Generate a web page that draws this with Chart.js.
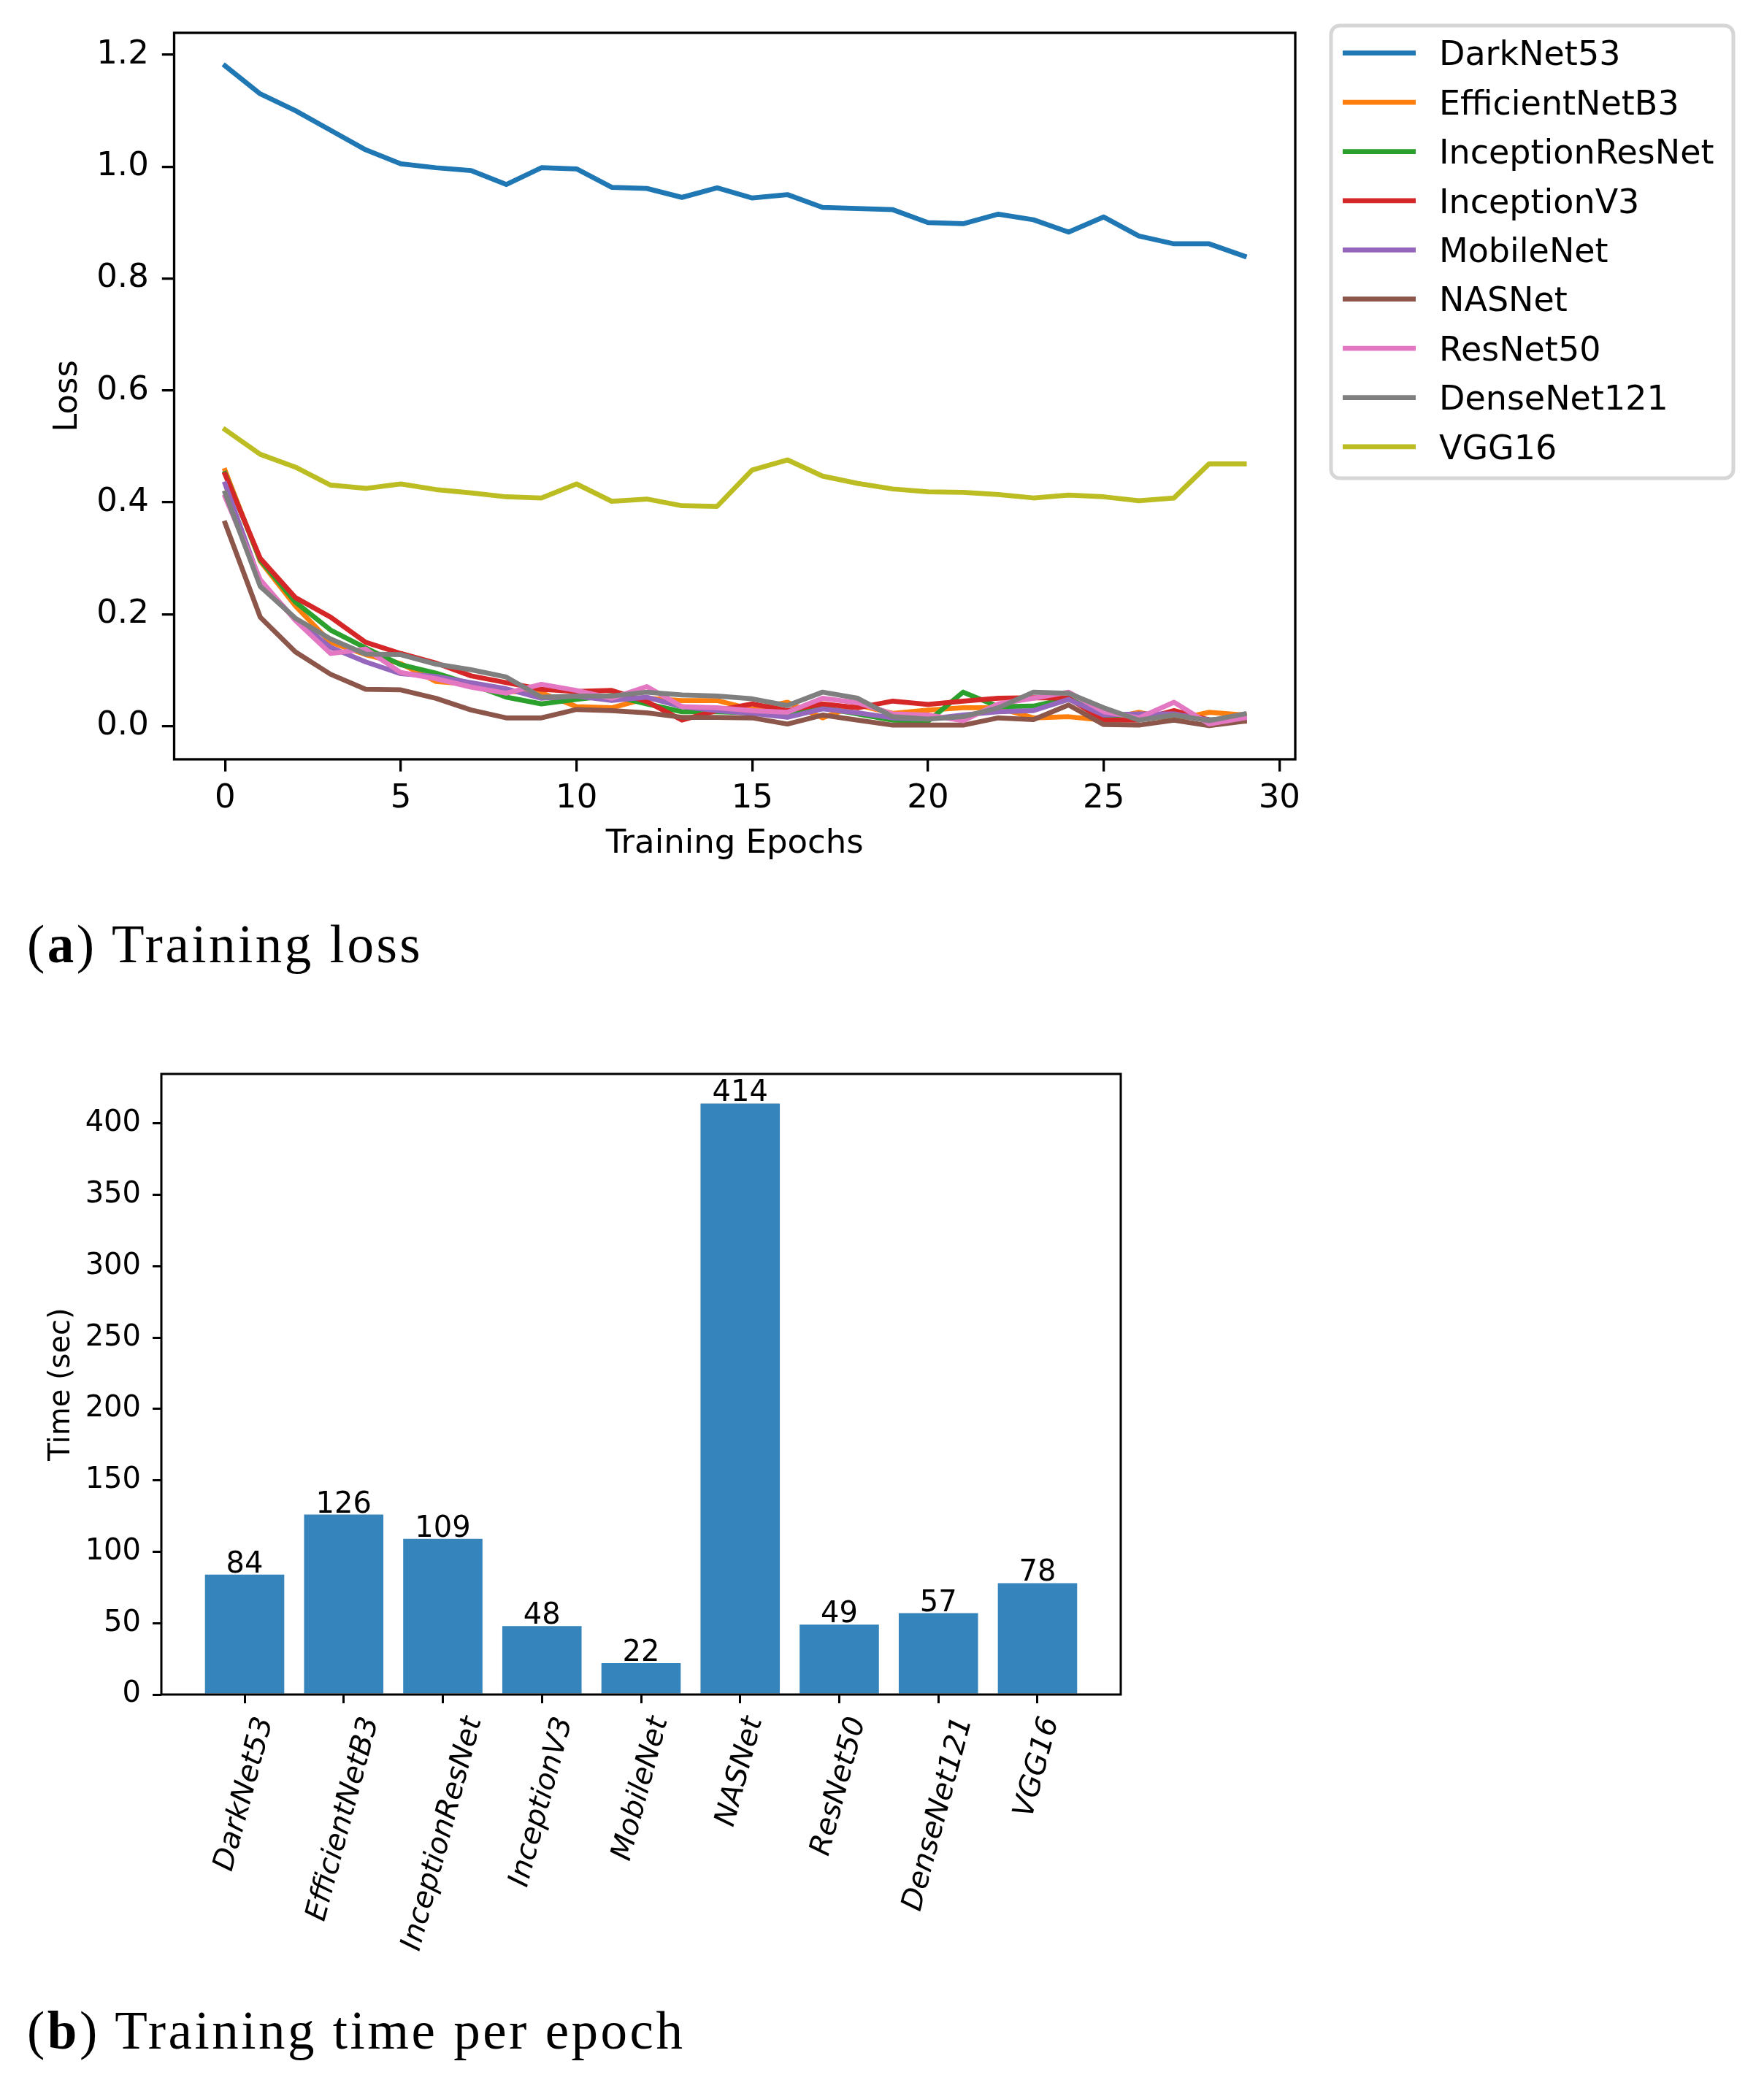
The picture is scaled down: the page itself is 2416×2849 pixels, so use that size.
<!DOCTYPE html>
<html><head><meta charset="utf-8">
<script src="https://cdn.jsdelivr.net/npm/chart.js@4.4.0/dist/chart.umd.min.js"></script>
<style>
html,body{margin:0;padding:0;background:#fff;}
body{position:relative;width:2416px;height:2849px;overflow:hidden;}
#c1{position:absolute;left:0;top:0;}
#c2{position:absolute;left:0;top:1400px;}
.cap{position:absolute;left:37px;font-family:'Liberation Serif',serif;font-size:73px;line-height:73px;letter-spacing:3.5px;color:#000;white-space:nowrap;}
</style></head><body>
<canvas id="c1" width="2416" height="1230" style="width:2416px;height:1230px"></canvas>
<div class="cap" style="top:1257px">(<b>a</b>) Training loss</div>
<canvas id="c2" width="2416" height="1300" style="width:2416px;height:1300px"></canvas>
<div class="cap" style="top:2745px">(<b>b</b>) Training time per epoch</div>
<script>
// ---------- data ----------
const epochs = [0,1,2,3,4,5,6,7,8,9,10,11,12,13,14,15,16,17,18,19,20,21,22,23,24,25,26,27,28,29];
const darkNet53 = [1.180,1.130,1.100,1.065,1.030,1.005,0.998,0.993,0.968,0.998,0.996,0.963,0.961,0.945,0.962,0.944,0.950,0.927,0.925,0.923,0.900,0.898,0.915,0.905,0.883,0.910,0.876,0.862,0.862,0.840];
const efficientNetB3 = [0.457,0.295,0.215,0.150,0.128,0.112,0.080,0.075,0.062,0.060,0.035,0.033,0.050,0.046,0.046,0.030,0.043,0.015,0.038,0.023,0.029,0.033,0.033,0.015,0.017,0.011,0.025,0.011,0.025,0.020];
const inceptionResNet = [0.452,0.297,0.222,0.172,0.140,0.110,0.095,0.075,0.052,0.040,0.048,0.055,0.040,0.026,0.026,0.024,0.020,0.033,0.022,0.011,0.009,0.061,0.035,0.036,0.050,0.020,0.012,0.020,0.012,0.011];
const inceptionV3 = [0.450,0.300,0.230,0.195,0.150,0.130,0.113,0.090,0.078,0.066,0.062,0.064,0.044,0.011,0.028,0.040,0.028,0.040,0.033,0.045,0.039,0.045,0.050,0.051,0.050,0.011,0.011,0.028,0.011,0.009];
const mobileNet = [0.433,0.258,0.191,0.141,0.115,0.094,0.089,0.078,0.067,0.050,0.054,0.046,0.052,0.035,0.028,0.023,0.016,0.031,0.024,0.015,0.013,0.020,0.026,0.028,0.048,0.020,0.022,0.022,0.011,0.015];
const nasNet = [0.363,0.195,0.133,0.093,0.066,0.065,0.050,0.029,0.015,0.015,0.030,0.028,0.024,0.016,0.016,0.015,0.004,0.020,0.011,0.002,0.002,0.002,0.015,0.012,0.038,0.003,0.002,0.011,0.001,0.009];
const resNet50 = [0.410,0.262,0.189,0.130,0.138,0.096,0.085,0.070,0.059,0.075,0.064,0.050,0.071,0.035,0.033,0.028,0.025,0.050,0.042,0.022,0.020,0.010,0.040,0.050,0.061,0.026,0.015,0.043,0.004,0.015];
const denseNet121 = [0.417,0.250,0.193,0.156,0.129,0.128,0.111,0.101,0.088,0.052,0.054,0.054,0.061,0.056,0.054,0.049,0.037,0.061,0.050,0.017,0.013,0.017,0.033,0.061,0.059,0.033,0.011,0.020,0.010,0.022];
const vgg16 = [0.530,0.486,0.463,0.431,0.425,0.433,0.423,0.417,0.410,0.408,0.433,0.402,0.406,0.394,0.393,0.458,0.476,0.447,0.434,0.424,0.419,0.418,0.414,0.408,0.413,0.410,0.403,0.408,0.469,0.469];

const seriesNames = ['DarkNet53','EfficientNetB3','InceptionResNet','InceptionV3','MobileNet','NASNet','ResNet50','DenseNet121','VGG16'];
const seriesValues = [darkNet53, efficientNetB3, inceptionResNet, inceptionV3, mobileNet, nasNet, resNet50, denseNet121, vgg16];
const seriesColors = ['#1f77b4','#ff7f0e','#2ca02c','#d62728','#9467bd','#8c564b','#e377c2','#7f7f7f','#bcbd22'];

const lossXTicks = [0,5,10,15,20,25,30];
const lossYTicks = [0.0,0.2,0.4,0.6,0.8,1.0,1.2];

const barModels = ['DarkNet53','EfficientNetB3','InceptionResNet','InceptionV3','MobileNet','NASNet','ResNet50','DenseNet121','VGG16'];
const barTimes = [84,126,109,48,22,414,49,57,78];
const timeTicks = [0,50,100,150,200,250,300,350,400];

// ---------- shared ----------
Chart.defaults.font.family = "'DejaVu Sans', sans-serif";
Chart.defaults.color = '#000';
Chart.defaults.animation = false;

const framePlugin = {
  id: 'frame',
  afterDraw(chart, args, opts) {
    const {left, top, right, bottom} = chart.chartArea;
    const ctx = chart.ctx;
    ctx.save();
    ctx.strokeStyle = '#000';
    ctx.lineWidth = opts.width || 3.3;
    ctx.strokeRect(left, top, right - left, bottom - top);
    ctx.restore();
  }
};

const boxLegendPlugin = {
  id: 'boxLegend',
  afterDraw(chart, args, o) {
    const ctx = chart.ctx;
    ctx.save();
    ctx.beginPath();
    ctx.roundRect(o.x, o.y, o.w, o.h, 12);
    ctx.fillStyle = '#fff';
    ctx.fill();
    ctx.lineWidth = 5;
    ctx.strokeStyle = '#d6d6d6';
    ctx.stroke();
    ctx.font = o.fontSize + "px 'DejaVu Sans'";
    ctx.textAlign = 'left';
    ctx.textBaseline = 'alphabetic';
    chart.data.datasets.forEach((ds, i) => {
      const y = o.firstY + o.rowH * i;
      ctx.beginPath();
      ctx.moveTo(o.lineX0, y);
      ctx.lineTo(o.lineX1, y);
      ctx.lineWidth = 6.75;
      ctx.lineCap = 'butt';
      ctx.strokeStyle = ds.borderColor;
      ctx.stroke();
      ctx.fillStyle = '#000';
      ctx.fillText(ds.label, o.textX, y + o.fontSize * 0.365);
    });
    ctx.restore();
  }
};

// ---------- chart (a): training loss ----------
const lossDatasets = seriesNames.map((name, i) => ({
  label: name,
  data: seriesValues[i].map((v, k) => ({x: epochs[k], y: v})),
  borderColor: seriesColors[i],
  backgroundColor: seriesColors[i],
  borderWidth: 6.75,
  pointRadius: 0,
  pointHoverRadius: 0,
  tension: 0,
  fill: false,
  borderJoinStyle: 'round',
  borderCapStyle: 'square',
  order: seriesNames.length - 1 - i
}));

new Chart(document.getElementById('c1'), {
  type: 'line',
  data: {datasets: lossDatasets},
  options: {
    responsive: false,
    devicePixelRatio: 1,
    animation: false,
    layout: {padding: {top: 42, left: 0, right: 642, bottom: 0}},
    plugins: {
      legend: {display: false},
      tooltip: {enabled: false},
      frame: {width: 3.3},
      boxLegend: {x: 1823, y: 35, w: 551, h: 620, firstY: 72.7, rowH: 67.4, lineX0: 1839, lineX1: 1939, textX: 1971, fontSize: 46}
    },
    scales: {
      x: {
        type: 'linear',
        min: -1.45, max: 30.45,
        bounds: 'data',
        afterBuildTicks: (s) => { s.ticks = lossXTicks.map(v => ({value: v})); },
        afterFit: (s) => { s.height = 190; },
        ticks: {font: {size: 45}, padding: 11, callback: (v) => String(v), autoSkip: false, maxRotation: 0, color: '#000'},
        grid: {drawOnChartArea: false, drawTicks: true, tickLength: 16.7, lineWidth: 3.3, color: '#000', tickColor: '#000'},
        border: {display: false},
        title: {display: true, text: 'Training Epochs', font: {size: 45}, padding: {top: 0, bottom: 47}, color: '#000'}
      },
      y: {
        type: 'linear',
        min: -0.059, max: 1.239,
        bounds: 'data',
        afterBuildTicks: (s) => { s.ticks = lossYTicks.map(v => ({value: v})); },
        afterFit: (s) => { s.width = 238.5; },
        ticks: {font: {size: 45}, padding: 18, callback: (v) => Number(v).toFixed(1), color: '#000'},
        grid: {drawOnChartArea: false, drawTicks: true, tickLength: 16.7, lineWidth: 3.3, color: '#000', tickColor: '#000'},
        border: {display: false},
        title: {display: true, text: 'Loss', font: {size: 45}, padding: {top: 66, bottom: 0}, color: '#000'}
      }
    }
  },
  plugins: [framePlugin, boxLegendPlugin]
});

// ---------- chart (b): training time per epoch ----------
const barValueLabels = {
  id: 'barValueLabels',
  afterDatasetsDraw(chart) {
    const ctx = chart.ctx;
    const meta = chart.getDatasetMeta(0);
    ctx.save();
    ctx.font = "40px 'DejaVu Sans'";
    ctx.fillStyle = '#000';
    ctx.textAlign = 'center';
    ctx.textBaseline = 'alphabetic';
    meta.data.forEach((el, i) => {
      ctx.fillText(String(barTimes[i]), el.x, el.y - 3);
    });
    ctx.restore();
  }
};

// rotated category labels, centred on each tick (matplotlib rotation=75, ha='center')
const rotatedLabels = {
  id: 'rotatedLabels',
  afterDraw(chart) {
    const xs = chart.scales.x;
    const ctx = chart.ctx;
    const theta = 75 * Math.PI / 180;
    const size = 40;
    const h = size * 1.164;
    ctx.save();
    ctx.font = "italic 40px 'DejaVu Sans'";
    ctx.fillStyle = '#000';
    ctx.textAlign = 'center';
    ctx.textBaseline = 'middle';
    const y0 = chart.chartArea.bottom + 12 + 14;
    xs.ticks.forEach((t) => {
      const name = barModels[t.value];
      const L = ctx.measureText(name).width;
      const H = L * Math.sin(theta) + h * Math.cos(theta);
      const cx = xs.getPixelForValue(t.value);
      const cy = y0 + H / 2;
      ctx.save();
      ctx.translate(cx, cy);
      ctx.rotate(-theta);
      ctx.fillText(name, 0, 0);
      ctx.restore();
    });
    ctx.restore();
  }
};

new Chart(document.getElementById('c2'), {
  type: 'bar',
  data: {
    datasets: [{
      label: 'Time (sec)',
      data: barTimes.map((v, i) => ({x: i, y: v})),
      backgroundColor: 'rgba(31,119,180,0.9)',
      borderWidth: 0,
      barPercentage: 0.8,
      categoryPercentage: 1.0
    }]
  },
  options: {
    responsive: false,
    devicePixelRatio: 1,
    animation: false,
    layout: {padding: {top: 71, left: 0, right: 881, bottom: 0}},
    plugins: {legend: {display: false}, tooltip: {enabled: false}, frame: {width: 3}},
    scales: {
      x: {
        type: 'linear',
        min: -0.84, max: 8.84,
        bounds: 'data',
        offset: false,
        afterBuildTicks: (s) => { s.ticks = barModels.map((_, i) => ({value: i})); },
        afterFit: (s) => { s.height = 379; },
        ticks: {display: false, autoSkip: false, callback: (v) => barModels[v]},
        grid: {drawOnChartArea: false, drawTicks: true, tickLength: 12, lineWidth: 3, color: '#000', tickColor: '#000', offset: false},
        border: {display: false}
      },
      y: {
        type: 'linear',
        min: 0, max: 434.7,
        bounds: 'data',
        afterBuildTicks: (s) => { s.ticks = timeTicks.map(v => ({value: v})); },
        afterFit: (s) => { s.width = 221; },
        ticks: {font: {size: 40}, padding: 16, callback: (v) => String(v), color: '#000'},
        grid: {drawOnChartArea: false, drawTicks: true, tickLength: 12, lineWidth: 3, color: '#000', tickColor: '#000'},
        border: {display: false},
        title: {display: true, text: 'Time (sec)', font: {size: 40}, padding: {top: 61, bottom: 0}, color: '#000'}
      }
    }
  },
  plugins: [framePlugin, barValueLabels, rotatedLabels]
});
</script>
</body></html>
